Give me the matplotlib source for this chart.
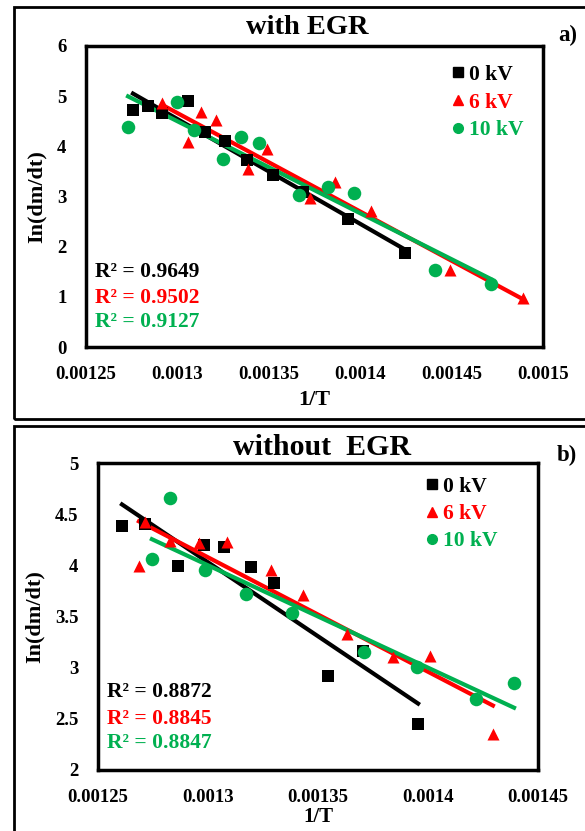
import numpy as np
import matplotlib

matplotlib.use('Agg')
import matplotlib.pyplot as plt
from matplotlib.lines import Line2D
from matplotlib.patches import Rectangle

plt.rcParams['font.family'] = ['Liberation Serif', 'DejaVu Serif']
plt.rcParams['font.weight'] = 'bold'

# panel a) with EGR
a_x0 = [0.0012757, 0.0012839, 0.0012916, 0.0013058, 0.0013151, 0.0013260,
        0.0013381, 0.0013523, 0.0013687, 0.0013933, 0.0014245]
a_y0 = [4.72, 4.80, 4.66, 4.90, 4.29, 4.11, 3.73, 3.43, 3.09, 2.55, 1.87]
a_x6 = [0.0012916, 0.0013058, 0.0013129, 0.0013211, 0.0013386, 0.0013490,
        0.0013725, 0.0013862, 0.0014059, 0.0014491, 0.0014890]
a_y6 = [4.86, 4.09, 4.68, 4.52, 3.55, 3.95, 2.97, 3.29, 2.71, 1.53, 0.98]
a_x10 = [0.0012730, 0.0012998, 0.0013091, 0.0013249, 0.0013348, 0.0013446,
         0.0013665, 0.0013824, 0.0013966, 0.0014409, 0.0014716]
a_y10 = [4.39, 4.88, 4.33, 3.75, 4.19, 4.07, 3.03, 3.19, 3.07, 1.53, 1.26]
a_r2 = ["0.9649", "0.9502", "0.9127"]

# panel b) without EGR
b_x0 = [0.0012609, 0.0012714, 0.0012864, 0.0012982, 0.0013073, 0.0013195,
        0.0013300, 0.0013545, 0.0013705, 0.0013955]
b_y0 = [4.38, 4.40, 3.99, 4.20, 4.18, 3.98, 3.83, 2.92, 3.16, 2.45]
b_x6 = [0.0012686, 0.0012714, 0.0012827, 0.0012959, 0.0013086, 0.0013286,
        0.0013432, 0.0013632, 0.0013841, 0.0014009, 0.0014295]
b_y6 = [3.99, 4.42, 4.24, 4.22, 4.23, 3.95, 3.71, 3.33, 3.10, 3.11, 2.35]
b_x10 = [0.0012745, 0.0012827, 0.0012986, 0.0013173, 0.0013382, 0.0013709,
         0.0013950, 0.0014218, 0.0014391]
b_y10 = [4.06, 4.66, 3.95, 3.72, 3.53, 3.15, 3.01, 2.69, 2.85]
b_r2 = ["0.8872", "0.8845", "0.8847"]

labels = ["0 kV", "6 kV", "10 kV"]
colors = ["black", "#FF0000", "#00B050"]
markers = ["s", "^", "o"]

fig = plt.figure(figsize=(5.85, 8.31), dpi=100)

# outer boxes round each panel
fig.patches.append(Rectangle((14 / 585, 1 - 419 / 831), 580 / 585, 412 / 831,
                             transform=fig.transFigure, fill=False, lw=2, ec='black'))
fig.patches.append(Rectangle((14 / 585, -0.05), 580 / 585, 1 - 426 / 831 + 0.05,
                             transform=fig.transFigure, fill=False, lw=2, ec='black'))


def panel(ax, series, r2, r2pos, xlim, ylim, xticks, yticks, xlabels, legpos, spacing):
    for (x, y), c, m in zip(series, colors, markers):
        x = np.array(x)
        y = np.array(y)
        ax.scatter(x, y, marker=m, color=c, s=75 if m != 'o' else 95,
                   linewidths=0, zorder=3)
        k, b = np.polyfit(x, y, 1)
        xx = np.array([x.min(), x.max()])
        ax.plot(xx, k * xx + b, color=c, lw=3, zorder=2)
    ax.set_xlim(*xlim)
    ax.set_ylim(*ylim)
    ax.set_xticks(xticks)
    ax.set_xticklabels(xlabels)
    ax.set_yticks(yticks)
    ax.set_yticklabels([f"{v:g}" for v in yticks])
    ax.tick_params(length=0, labelsize=13.5, pad=14)
    for s in ax.spines.values():
        s.set_linewidth(2.5)
    ax.set_ylabel("In(dm/dt)", fontsize=16, fontweight='bold')
    ax.set_xlabel("1/T", fontsize=16, fontweight='bold')
    for v, c, yp in zip(r2, colors, r2pos):
        ax.text(0.02, yp, f"R² = {v}", color=c, fontsize=15.5,
                fontweight='bold', transform=ax.transAxes, va='center')
    handles = [Line2D([], [], ls='', marker=m, color=c, markersize=7)
               for m, c in zip(markers, colors)]
    leg = ax.legend(handles, labels, loc='upper left', bbox_to_anchor=legpos,
                    frameon=False, handlelength=0.6, handletextpad=0.2,
                    labelspacing=spacing, borderpad=0, borderaxespad=0,
                    prop={'size': 15.5, 'weight': 'bold'})
    for t, c in zip(leg.get_texts(), colors):
        t.set_color(c)


ax1 = fig.add_axes([86 / 585, 1 - 347 / 831, 457 / 585, 301 / 831])
panel(ax1, [(a_x0, a_y0), (a_x6, a_y6), (a_x10, a_y10)], a_r2,
      [0.249, 0.163, 0.083],
      (0.00125, 0.0015), (0, 6),
      [0.00125, 0.0013, 0.00135, 0.0014, 0.00145, 0.0015], [0, 1, 2, 3, 4, 5, 6],
      ["0.00125", "0.0013", "0.00135", "0.0014", "0.00145", "0.0015"],
      (0.80, 0.937), 0.35)
ax1.yaxis.set_label_coords(-0.087, 0.5)
ax1.xaxis.set_label_coords(0.5, -0.143)
fig.text(307 / 585, 1 - 28 / 831, "with EGR", ha='center', va='center',
         fontsize=20.5, fontweight='bold')
fig.text(568 / 585, 1 - 35 / 831, "a)", ha='center', va='center',
         fontsize=16.5, fontweight='bold')

ax2 = fig.add_axes([98 / 585, 1 - 770 / 831, 440 / 585, 307 / 831])
panel(ax2, [(b_x0, b_y0), (b_x6, b_y6), (b_x10, b_y10)], b_r2,
      [0.254, 0.166, 0.088],
      (0.00125, 0.00145), (2, 5),
      [0.00125, 0.0013, 0.00135, 0.0014, 0.00145], [2, 2.5, 3, 3.5, 4, 4.5, 5],
      ["0.00125", "0.0013", "0.00135", "0.0014", "0.00145"],
      (0.745, 0.955), 0.33)
ax2.yaxis.set_label_coords(-0.122, 0.5)
ax2.xaxis.set_label_coords(0.5, -0.12)
ax2.xaxis.label.set_fontsize(15)
fig.text(322 / 585, 1 - 448 / 831, "without  EGR", ha='center', va='center',
         fontsize=21.5, fontweight='bold')
fig.text(567 / 585, 1 - 455 / 831, "b)", ha='center', va='center',
         fontsize=16.5, fontweight='bold')

plt.savefig("out.png", dpi=100)
